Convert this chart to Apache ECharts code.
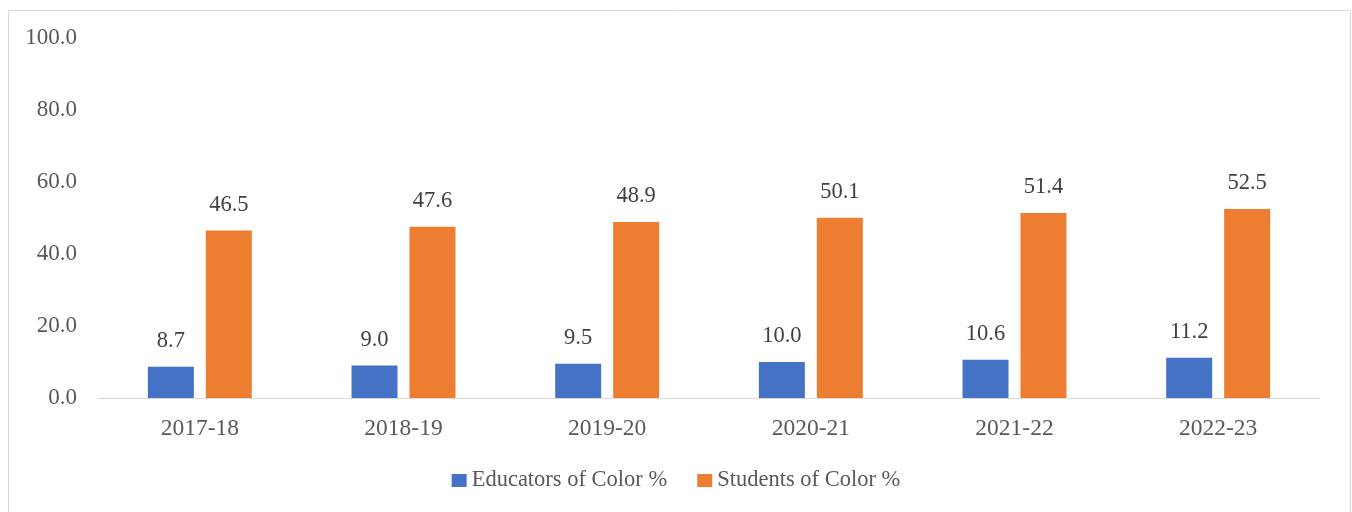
<!DOCTYPE html>
<html><head><meta charset="utf-8">
<script src="https://cdn.jsdelivr.net/npm/echarts@6/dist/echarts.min.js"></script>
<style>html,body{margin:0;padding:0;background:#fff;}#c{width:1352px;height:512px;}</style>
</head><body><div id="c"></div>
<script>
const categories = ['2017-18','2018-19','2019-20','2020-21','2021-22','2022-23'];
const educators = [8.7, 9.0, 9.5, 10.0, 10.6, 11.2];
const students = [46.5, 47.6, 48.9, 50.1, 51.4, 52.5];
const seriesNames = ['Educators of Color %','Students of Color %'];

const font = '"Liberation Serif", "Times New Roman", serif';
const txt = '#595959';
const chart = echarts.init(document.getElementById('c'));
chart.setOption({
  animation: false,
  textStyle: {fontFamily: font},
  graphic: [{type:'rect', left: 6, top: 8, shape:{width:1342, height:502}, style:{fill:'none', stroke:'#D9D9D9', lineWidth:1}}],
  legend: {
    bottom: 15, left: 'center', itemWidth: 15, itemHeight: 13, itemGap: 30,
    icon: 'rect',
    textStyle: {fontFamily: font, fontSize: 22.5, color: txt},
    data: seriesNames
  },
  grid: {left: 98, right: 32, top: 38, bottom: 114},
  xAxis: {
    type: 'category', data: categories,
    axisLine: {lineStyle: {color: '#D9D9D9', width: 1}},
    axisTick: {show: false},
    axisLabel: {fontFamily: font, fontSize: 23.5, color: txt, margin: 19}
  },
  yAxis: {
    type: 'value', min: 0, max: 100, interval: 20,
    splitLine: {show: false},
    axisLine: {show: false}, axisTick: {show: false},
    axisLabel: {fontFamily: font, fontSize: 23, color: txt, margin: 21, formatter: v => v.toFixed(1)}
  },
  series: [
    {name: seriesNames[0], type: 'bar', data: educators, barWidth: 46, barGap: '26%',
     itemStyle: {color: '#4472C4'},
     label: {show: true, position: 'top', distance: 14, fontFamily: font, fontSize: 22.5, color: '#404040', formatter: p => p.value.toFixed(1)}},
    {name: seriesNames[1], type: 'bar', data: students, barWidth: 46,
     itemStyle: {color: '#ED7D31'},
     label: {show: true, position: 'top', distance: 14, fontFamily: font, fontSize: 22.5, color: '#404040', formatter: p => p.value.toFixed(1)}}
  ]
});
</script></body></html>
